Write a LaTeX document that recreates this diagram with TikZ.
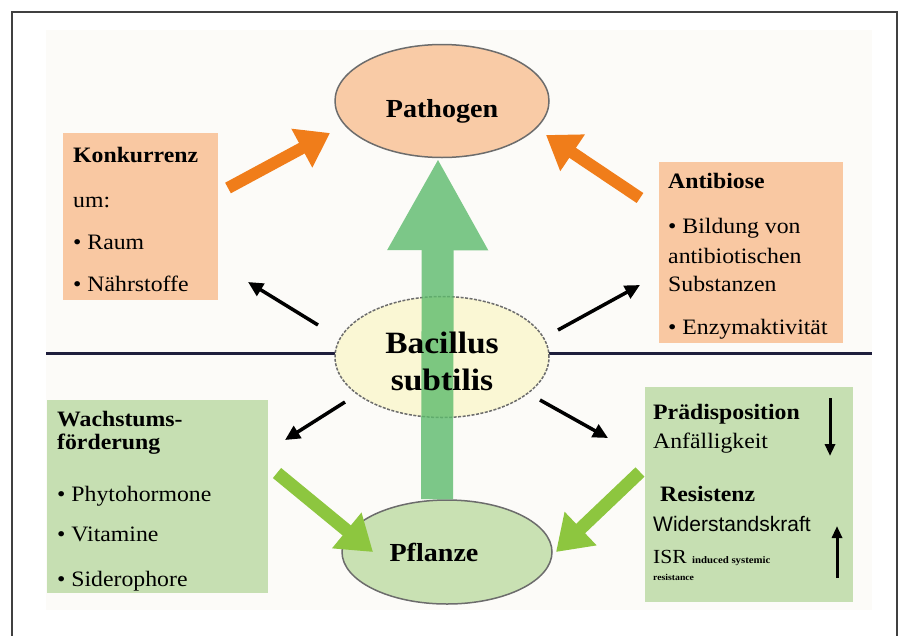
\documentclass[tikz,border=0pt]{standalone}
\usepackage{fontspec}
\setmainfont{Liberation Serif}[FakeStretch=1.08]
\newfontfamily\arialfont{Liberation Sans}
\usetikzlibrary{arrows.meta,shapes.geometric}
\definecolor{peach}{HTML}{F9C8A2}
\definecolor{peachell}{HTML}{F9CBA6}
\definecolor{boxgreen}{HTML}{C6DFB2}
\definecolor{ellgreen}{HTML}{C9E1B3}
\definecolor{bacyellow}{HTML}{FAF7D4}
\definecolor{orangearr}{HTML}{F07D1A}
\definecolor{limearr}{HTML}{8DC63F}
\definecolor{bigarr}{HTML}{5DBB6C}
\definecolor{navyline}{HTML}{1E1E3C}
\definecolor{framegray}{HTML}{404040}
\definecolor{panel}{HTML}{FCFBF8}
\begin{document}
\begin{tikzpicture}[x=1pt,y=-1pt,
  pbox/.style={rectangle, fill=peach, draw=none, inner sep=0pt},
  gbox/.style={rectangle, fill=boxgreen, draw=none, inner sep=0pt},
  ell/.style={ellipse, draw=gray!85!black, line width=1.5pt, inner sep=0pt},
  txt/.style={anchor=base west, inner sep=0pt, font=\fontsize{22}{26}\selectfont},
  hd/.style={anchor=base west, inner sep=0pt, font=\fontsize{22}{26}\selectfont\bfseries},
  orarrow/.style={draw=orangearr, line width=12pt, -{Triangle[length=32pt,width=42pt]}},
  limearrow/.style={draw=limearr, line width=13pt, -{Triangle[length=34pt,width=44pt]}},
  blkarrow/.style={draw=black, line width=3.5pt, -{Triangle[length=15pt,width=14pt]}},
  smallarrow/.style={draw=black, line width=3pt, -{Triangle[length=12pt,width=10pt]}},
  bigarrow/.style={draw=bigarr, line width=32pt, -{Triangle[length=92pt,width=94pt]}}]
\useasboundingbox (0,0) rectangle (901,635);
\fill[white] (0,0) rectangle (901,635);
% frame and panel
\draw[framegray, line width=2pt] (12,640) -- (12,12) -- (897,12) -- (897,640);
\fill[panel] (46,30) rectangle (872,610);
% divider
\draw[navyline, line width=3pt] (46,353) -- (872,353);
% boxes
\node[pbox, minimum width=155pt, minimum height=167pt] (konk) at (140.5,216.5) {};
\node[pbox, minimum width=184pt, minimum height=181pt] (anti) at (751,252.5) {};
\node[gbox, minimum width=221pt, minimum height=193pt] (wachs) at (157.5,496.5) {};
\node[gbox, minimum width=208pt, minimum height=215pt] (praed) at (749,494.5) {};
% ellipses
\node[ell, fill=peachell, minimum width=214pt, minimum height=113pt] (path) at (442,101) {};
\node[ell, fill=bacyellow, dashed, dash pattern=on 3pt off 1.5pt, minimum width=214pt, minimum height=121pt] (bac) at (442,357) {};
\node[ell, fill=ellgreen, minimum width=210pt, minimum height=104pt] (pfl) at (447,552) {};
% big green arrow Pflanze -> Pathogen
\begin{scope}[transparency group, opacity=0.8]
\draw[bigarrow] ([xshift=-10pt]pfl.north) -- ([xshift=-4pt]path.south);
\end{scope}
% ellipse labels
\node[font=\fontsize{26}{30}\selectfont\bfseries, inner sep=0pt] (pathtxt) at (442,111) {Pathogen};
\node[font=\fontsize{31}{37}\selectfont\bfseries, align=center, inner sep=0pt] (bactxt) at (442,361) {Bacillus\\subtilis};
\node[font=\fontsize{26}{30}\selectfont\bfseries, inner sep=0pt] (pfltxt) at (434,552) {Pflanze};
% Konkurrenz text
\node[hd] (k1) at (73,162) {Konkurrenz};
\node[txt] (k2) at (73,207) {um:};
\node[txt] (k3) at (73,249) {• Raum};
\node[txt] (k4) at (73,291) {• Nährstoffe};
% Antibiose text
\node[hd] (a1) at (668,188) {Antibiose};
\node[txt] (a2) at (668,233) {• Bildung von};
\node[txt] (a3) at (668,263) {antibiotischen};
\node[txt] (a4) at (668,291) {Substanzen};
\node[txt] (a5) at (668,334) {• Enzymaktivität};
% Wachstum text
\node[hd] (w1) at (57,426) {Wachstums-};
\node[hd] (w2) at (57,449) {förderung};
\node[txt] (w3) at (57,501) {• Phytohormone};
\node[txt] (w4) at (57,541) {• Vitamine};
\node[txt] (w5) at (57,586) {• Siderophore};
% Praedisposition text
\node[hd] (p1) at (653,419) {Prädisposition};
\node[txt] (p2) at (653,448) {Anfälligkeit};
\node[hd] (p3) at (660,501) {Resistenz};
\node[txt, font=\fontsize{21}{24}\selectfont\arialfont] (p4) at (653,531) {Widerstandskraft};
\node[txt, font=\fontsize{20}{22}\selectfont] (p5) at (653,563) {ISR {\fontsize{10}{12}\selectfont\bfseries induced systemic}};
\node[txt, font=\fontsize{9}{11}\selectfont\bfseries] (p6) at (653,580) {resistance};
% connector end points
\coordinate (o1s) at (228,188); \coordinate (o1e) at (330,133);
\coordinate (o2s) at (640,198); \coordinate (o2e) at (546,135);
\coordinate (b1s) at (318,325); \coordinate (b1e) at (248,282);
\coordinate (b2s) at (558,330); \coordinate (b2e) at (640,285);
\coordinate (b3s) at (345,402); \coordinate (b3e) at (285,440);
\coordinate (b4s) at (540,400); \coordinate (b4e) at (608,438);
\coordinate (g1s) at (277,473); \coordinate (g1e) at (373,552);
\coordinate (g2s) at (640,472); \coordinate (g2e) at (556,552);
\coordinate (d1s) at (830,398); \coordinate (d1e) at (830,456);
\coordinate (u1s) at (837,578); \coordinate (u1e) at (837,526);
% arrows
\draw[orarrow] (o1s) -- (o1e);
\draw[orarrow] (o2s) -- (o2e);
\draw[blkarrow] (b1s) -- (b1e);
\draw[blkarrow] (b2s) -- (b2e);
\draw[blkarrow] (b3s) -- (b3e);
\draw[blkarrow] (b4s) -- (b4e);
\draw[limearrow] (g1s) -- (g1e);
\draw[limearrow] (g2s) -- (g2e);
\draw[smallarrow] (d1s) -- (d1e);
\draw[smallarrow] (u1s) -- (u1e);
\end{tikzpicture}
\end{document}
